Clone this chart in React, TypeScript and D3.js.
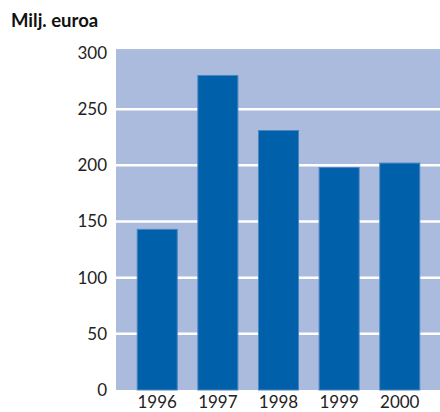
import { useEffect, useRef } from "react";
import * as d3 from "d3";

const years = ["1996", "1997", "1998", "1999", "2000"];
const values = [143, 280, 231, 198, 202];
const yTicks = [0, 50, 100, 150, 200, 250, 300];
const unitLabel = "Milj. euroa";

const W = 440;
const H = 412;

const App = () => {
    const ref = useRef<SVGSVGElement | null>(null);

    useEffect(() => {
        const svg = d3.select(ref.current);
        svg.selectAll("*").remove();

        const font = "Lato, 'Open Sans', sans-serif";

        const x = d3.scaleBand()
            .domain(years)
            .range([116, 441])
            .paddingInner(0.34)
            .paddingOuter(0.35);

        const y = d3.scaleLinear()
            .domain([0, 300])
            .range([390, 53]);

        // plot background
        svg.append("rect")
            .attr("x", 116)
            .attr("y", y(303.5))
            .attr("width", W - 116)
            .attr("height", y(0) - y(303.5))
            .attr("fill", "#aabbdd");

        // gridlines
        svg.append("g")
            .selectAll("line")
            .data(yTicks.filter(t => t > 0 && t < 300))
            .enter().append("line")
            .attr("x1", 116)
            .attr("x2", W)
            .attr("y1", d => y(d))
            .attr("y2", d => y(d))
            .attr("stroke", "#ffffff")
            .attr("stroke-width", 2.5);

        // bars
        svg.append("g")
            .selectAll("rect")
            .data(values)
            .enter().append("rect")
            .attr("x", (d, i) => x(years[i]) ?? 0)
            .attr("y", d => y(d))
            .attr("width", x.bandwidth())
            .attr("height", d => y(0) - y(d))
            .attr("fill", "#0060aa")
            .attr("stroke", "#4a86c2")
            .attr("stroke-width", 1);

        // y tick labels
        svg.append("g")
            .selectAll("text")
            .data(yTicks)
            .enter().append("text")
            .attr("x", 107)
            .attr("y", d => y(d))
            .attr("dy", "0.35em")
            .attr("text-anchor", "end")
            .attr("font-family", font)
            .attr("font-size", "17px")
            .attr("fill", "#222222")
            .text(d => d);

        // x labels
        svg.append("g")
            .selectAll("text")
            .data(years)
            .enter().append("text")
            .attr("x", d => (x(d) ?? 0) + x.bandwidth() / 2)
            .attr("y", 408)
            .attr("text-anchor", "middle")
            .attr("font-family", font)
            .attr("font-size", "17px")
            .attr("fill", "#222222")
            .text(d => d);

        // unit title
        svg.append("text")
            .attr("x", 11)
            .attr("y", 27)
            .attr("font-family", font)
            .attr("font-size", "18.5px")
            .attr("font-weight", "bold")
            .attr("fill", "#111111")
            .text(unitLabel);
    }, []);

    return (
        <svg
            ref={ref}
            width={W}
            height={H}
            style={{ position: "absolute", left: 0, top: 0, background: "#ffffff" }}
        />
    );
};

export default App;
